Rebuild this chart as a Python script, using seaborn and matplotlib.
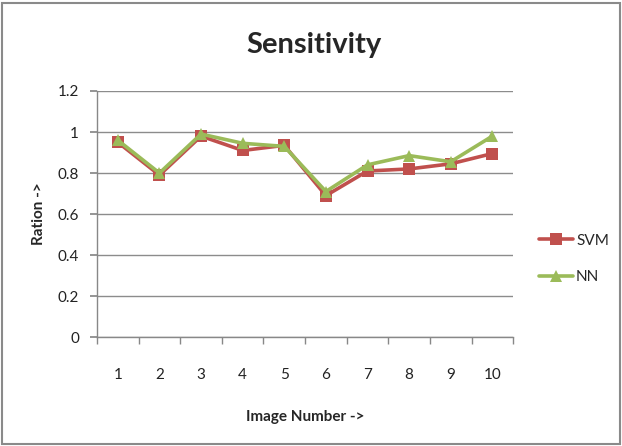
import matplotlib
matplotlib.use("Agg")
import matplotlib.pyplot as plt
from matplotlib.patches import Rectangle
from matplotlib.ticker import FuncFormatter, FixedLocator
import seaborn as sns
import pandas as pd

images = [1, 2, 3, 4, 5, 6, 7, 8, 9, 10]
svm = [0.95, 0.79, 0.98, 0.91, 0.935, 0.69, 0.81, 0.82, 0.845, 0.895]
nn = [0.96, 0.80, 0.99, 0.945, 0.93, 0.71, 0.84, 0.885, 0.855, 0.98]
series_names = ["SVM", "NN"]
yticks = [0, 0.2, 0.4, 0.6, 0.8, 1.0, 1.2]

df = pd.DataFrame({
    "Image": images * 2,
    "Value": svm + nn,
    "Model": [series_names[0]] * len(images) + [series_names[1]] * len(images),
})

sns.set_theme(style="white")
plt.rcParams["font.family"] = ["Lato", "DejaVu Sans"]

fig = plt.figure(figsize=(6.22, 4.46), dpi=100)
ax = fig.add_axes([0.156, 0.244, 0.669, 0.552])

palette = {"SVM": "#C0504D", "NN": "#9BBB59"}
markers = {"SVM": "s", "NN": "^"}
sns.lineplot(data=df, x="Image", y="Value", hue="Model", style="Model",
             palette=palette, markers=markers, dashes=False, linewidth=2.6,
             markersize=9, markeredgewidth=0, ax=ax)

ax.set_xlim(0.5, 10.5)
ax.set_ylim(0, 1.2)
ax.set_yticks(yticks)
ax.yaxis.set_major_formatter(FuncFormatter(lambda v, p: f"{v:g}"))
ax.set_xticks(images)
ax.xaxis.set_minor_locator(FixedLocator([i + 0.5 for i in range(0, 11)]))
ax.tick_params(axis="x", which="major", length=0, pad=22, labelsize=11, colors="#222222")
ax.tick_params(axis="x", which="minor", length=5, color="#888888", direction="out", bottom=True)
ax.tick_params(axis="y", which="major", length=5, color="#888888", direction="out",
               left=True, labelsize=11, labelcolor="#222222", pad=8)

ax.yaxis.grid(True, color="#8c8c8c", linewidth=1.0)
ax.xaxis.grid(False)
for side in ["top", "right"]:
    ax.spines[side].set_visible(False)
for side in ["left", "bottom"]:
    ax.spines[side].set_color("#888888")
    ax.spines[side].set_linewidth(1.0)

ax.set_xlabel("Image Number ->", fontsize=11, fontweight="bold", labelpad=20)
ax.set_ylabel("Ration ->", fontsize=11, fontweight="bold", labelpad=8)
fig.text(0.505, 0.9, "Sensitivity", ha="center", va="center",
         fontsize=21, fontweight="bold")

handles, labels = ax.get_legend_handles_labels()
ax.legend(handles, labels, loc="center left", bbox_to_anchor=(1.03, 0.318),
          frameon=False, fontsize=11, handlelength=2.2, labelspacing=1.45,
          handletextpad=0.2)

fig.patches.append(Rectangle((0.004, 0.004), 0.992, 0.99, transform=fig.transFigure,
                             fill=False, edgecolor="#8a8a8a", linewidth=1.5))

fig.savefig("out.png", dpi=100)
